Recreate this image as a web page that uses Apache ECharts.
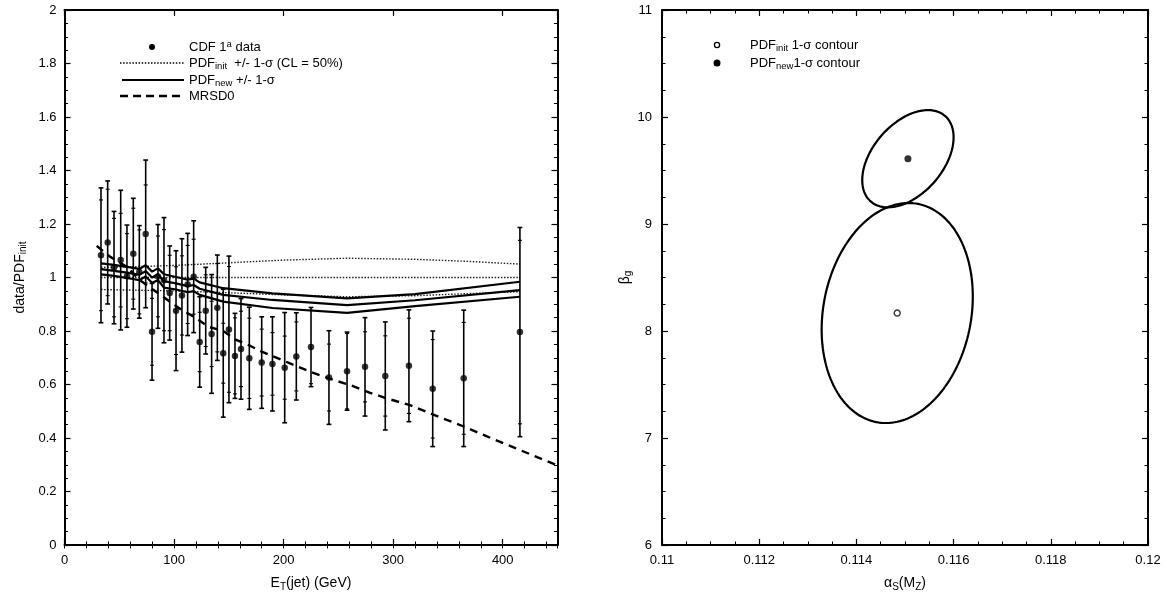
<!DOCTYPE html>
<html><head><meta charset="utf-8">
<script src="https://cdn.jsdelivr.net/npm/echarts@6/dist/echarts.min.js"></script>
<style>html,body{margin:0;padding:0;background:#fff}#c{width:1167px;height:598px}</style>
</head><body><div id="c"></div>
<script>
// ---------- Left panel: CDF 1a data / PDF_init ----------
const etJet = [33.3,39.4,45.2,51.3,57.0,62.8,68.3,74.1,79.9,85.3,90.8,96.0,101.8,107.2,112.4,117.9,123.4,128.9,134.3,139.5,144.9,150.1,155.6,161.1,168.7,180.0,189.8,201.0,211.6,225.0,241.4,257.9,274.3,292.8,314.4,336.1,364.4,415.7];
const ratio = [1.083,1.131,1.037,1.065,1.005,1.089,1.021,1.163,0.797,1.004,0.990,0.942,0.876,0.933,0.974,1.003,0.759,0.876,0.789,0.887,0.717,0.806,0.707,0.733,0.698,0.682,0.677,0.663,0.705,0.740,0.626,0.650,0.666,0.632,0.670,0.584,0.623,0.796];
const ratioErr = [0.252,0.230,0.210,0.261,0.191,0.207,0.173,0.276,0.181,0.194,0.234,0.176,0.224,0.212,0.191,0.209,0.169,0.162,0.222,0.197,0.239,0.274,0.159,0.188,0.191,0.171,0.176,0.206,0.163,0.148,0.175,0.146,0.184,0.202,0.209,0.216,0.255,0.391];
const statErr = [0.207,0.199,0.184,0.175,0.159,0.170,0.157,0.183,0.125,0.151,0.189,0.141,0.164,0.148,0.146,0.140,0.111,0.134,0.122,0.165,0.112,0.235,0.142,0.141,0.150,0.125,0.117,0.118,0.129,0.137,0.125,0.141,0.131,0.150,0.178,0.184,0.209,0.343];

// PDF_init +/- 1 sigma (dotted)
const initE = [33.3,60,100,150,200,258,320,370,415.7];
const initUp = [1.038,1.040,1.045,1.055,1.065,1.072,1.068,1.060,1.050];
const initMid = [1.0,1.0,1.0,1.0,1.0,1.0,1.0,1.0,1.0];
const initLow = [0.955,0.953,0.950,0.943,0.935,0.928,0.932,0.940,0.947];

// PDF_new +/- 1 sigma (solid)
const newE = [33.3,45.2,57.0,68.3,74.1,79.9,85.3,90.8,101.8,112.4,117.9,123.4,144.9,189.8,257.9,320,415.7];
const newUp = [1.053,1.047,1.040,1.032,1.046,1.022,1.034,1.012,1.002,0.992,0.996,0.982,0.960,0.941,0.922,0.938,0.984];
const newMid = [1.031,1.025,1.018,1.010,1.024,1.000,1.012,0.986,0.978,0.968,0.972,0.958,0.935,0.916,0.897,0.915,0.953];
const newLow = [1.012,1.006,0.998,0.990,1.004,0.980,0.990,0.962,0.955,0.945,0.949,0.935,0.910,0.886,0.868,0.893,0.928];

// MRSD0 (dashed)
const mrsE = [29.4,41.5,56.8,68.9,84.2,96,107,119.1,131.2,144.9,155.6,169.3,180,187.6,205.8,224.1,245.4,260.6,279.0,294.1,315.3,336.1,364.4,391.4,415.7,449.3];
const mrsVal = [1.118,1.078,1.040,0.990,0.945,0.910,0.879,0.851,0.816,0.800,0.769,0.745,0.723,0.710,0.679,0.648,0.617,0.598,0.569,0.548,0.523,0.488,0.443,0.396,0.355,0.299];

// ---------- Right panel: 1-sigma contours ----------
const initCenter = [0.11484, 8.168];
const initSigma = [0.001555, 1.028];
const initRho = 0.15;
const newCenter = [0.11506, 9.61];
const newSigma = [0.00094, 0.4545];
const newRho = 0.44;

// tick settings
const leftXTicks = [0, 450, 100, 20];
const leftYTicks = [0, 2, 0.2];
const rightXTicks = [0.11, 0.12, 0.002];
const rightYTicks = [6, 11, 1];

const F = '"Liberation Sans", Arial, Helvetica, sans-serif';
const K = '#000';

function ellipse(c, s, rho, n) {
  const pts = [];
  const k = Math.sqrt(1 - rho * rho);
  for (let i = 0; i <= n; i++) {
    const t = 2 * Math.PI * i / n;
    pts.push([c[0] + s[0] * Math.cos(t), c[1] + s[1] * (rho * Math.cos(t) + k * Math.sin(t))]);
  }
  return pts;
}
const pairs = (xs, ys) => xs.map((x, i) => [x, ys[i]]);

const rich = {
  m: { fontSize: 14, fontFamily: F, color: K },
  s: { fontSize: 10, fontFamily: F, color: K, padding: [7, 0, 0, 0] }
};
const richL = {
  m: { fontSize: 13, fontFamily: F, fill: K },
  s: { fontSize: 9.5, fontFamily: F, fill: K, padding: [6, 0, 0, 0] },
  p: { fontSize: 9.5, fontFamily: F, fill: K, padding: [0, 0, 6, 0] }
};

function axis(grid, pos, min, max, interval, o) {
  o = o || {};
  return Object.assign({
    type: 'value', gridIndex: grid, position: pos, min: min, max: max, interval: interval,
    axisLine: { show: true, onZero: false, lineStyle: { color: K, width: 2 } },
    axisTick: { show: true, inside: true, length: 6, lineStyle: { color: K, width: 1.2 } },
    minorTick: o.minor ? { show: true, splitNumber: o.minor, length: 3.5, lineStyle: { color: K, width: 1 } } : { show: false },
    splitLine: { show: false },
    axisLabel: { show: false }
  }, o.extra || {});
}
const lbl = (m, extra) => Object.assign({ show: true, color: K, fontSize: 13, fontFamily: F, margin: m }, extra || {});

const xAxis = [
  axis(0, 'bottom', leftXTicks[0], leftXTicks[1], leftXTicks[2], { extra: {
    axisLabel: lbl(9, { showMaxLabel: false }),
    name: '{m|E}{s|T}{m|(jet) (GeV)}', nameLocation: 'middle', nameGap: 30,
    nameTextStyle: { rich: rich }
  } }),
  axis(0, 'bottom', leftXTicks[0], leftXTicks[1], leftXTicks[3], { extra: {
    axisLine: { show: false }, axisTick: { show: true, inside: true, length: 3.5, lineStyle: { color: K, width: 1 } } } }),
  axis(0, 'top', leftXTicks[0], leftXTicks[1], leftXTicks[2]),
  axis(0, 'top', leftXTicks[0], leftXTicks[1], leftXTicks[3], { extra: {
    axisLine: { show: false }, axisTick: { show: true, inside: true, length: 3.5, lineStyle: { color: K, width: 1 } } } }),
  axis(1, 'bottom', rightXTicks[0], rightXTicks[1], rightXTicks[2], { minor: 4, extra: {
    axisLabel: lbl(9),
    name: '{m|α}{s|S}{m|(M}{s|Z}{m|)}', nameLocation: 'middle', nameGap: 30,
    nameTextStyle: { rich: rich }
  } }),
  axis(1, 'top', rightXTicks[0], rightXTicks[1], rightXTicks[2], { minor: 4 })
];
const yAxis = [
  axis(0, 'left', leftYTicks[0], leftYTicks[1], leftYTicks[2], { minor: 4, extra: {
    axisLabel: lbl(8),
    name: '{m|data/PDF}{s|init}', nameLocation: 'middle', nameGap: 36,
    nameTextStyle: { rich: rich }
  } }),
  axis(0, 'right', leftYTicks[0], leftYTicks[1], leftYTicks[2], { minor: 4 }),
  axis(1, 'left', rightYTicks[0], rightYTicks[1], rightYTicks[2], { minor: 4, extra: {
    axisLabel: lbl(10),
    name: '{m|β}{s|g}', nameLocation: 'middle', nameGap: 28,
    nameTextStyle: { rich: rich }
  } }),
  axis(1, 'right', rightYTicks[0], rightYTicks[1], rightYTicks[2], { minor: 4 })
];

const lineS = (data, style, xi, yi) => ({
  type: 'line', xAxisIndex: xi || 0, yAxisIndex: yi || 0, data: data, showSymbol: false, symbol: 'none',
  lineStyle: style, silent: true, z: 3
});

const series = [
  lineS(pairs(initE, initUp), { color: '#222', width: 1.4, type: [1.5, 1.6] }),
  lineS(pairs(initE, initMid), { color: '#222', width: 1.4, type: [1.5, 1.6] }),
  lineS(pairs(initE, initLow), { color: '#222', width: 1.4, type: [1.5, 1.6] }),
  lineS(pairs(newE, newUp), { color: K, width: 2.2 }),
  lineS(pairs(newE, newMid), { color: K, width: 2.2 }),
  lineS(pairs(newE, newLow), { color: K, width: 2.2 }),
  lineS(pairs(mrsE, mrsVal), { color: K, width: 2.4, type: [8, 6] }),
  {
    type: 'custom', xAxisIndex: 0, yAxisIndex: 0, z: 4,
    data: etJet.map((e, i) => [e, ratio[i], ratioErr[i], statErr[i]]),
    encode: { x: 0, y: 1 },
    renderItem: function (params, api) {
      const x = api.value(0), y = api.value(1), e = api.value(2), s = api.value(3);
      const t = api.coord([x, y + e]), b = api.coord([x, y - e]);
      const ts = api.coord([x, y + s]), bs = api.coord([x, y - s]);
      const c = 2.4, st = { stroke: K, lineWidth: 1.6 }, st2 = { stroke: K, lineWidth: 1.1 };
      const h = (p, w, sty) => ({ type: 'line', shape: { x1: p[0] - w, y1: p[1], x2: p[0] + w, y2: p[1] }, style: sty });
      return { type: 'group', children: [
        { type: 'line', shape: { x1: t[0], y1: t[1], x2: b[0], y2: b[1] }, style: st },
        h(t, c, st), h(b, c, st), h(ts, 2, st2), h(bs, 2, st2)
      ] };
    }
  },
  {
    type: 'scatter', xAxisIndex: 0, yAxisIndex: 0, z: 5, symbol: 'circle', symbolSize: 6.5,
    itemStyle: { color: K }, data: pairs(etJet, ratio), silent: true
  },
  lineS(ellipse(initCenter, initSigma, initRho, 180), { color: K, width: 2.2 }, 4, 2),
  lineS(ellipse(newCenter, newSigma, newRho, 180), { color: K, width: 2.2 }, 4, 2),
  {
    type: 'scatter', xAxisIndex: 4, yAxisIndex: 2, z: 5, symbol: 'circle', symbolSize: 6,
    itemStyle: { color: '#fff', borderColor: K, borderWidth: 1.4 }, data: [initCenter], silent: true
  },
  {
    type: 'scatter', xAxisIndex: 4, yAxisIndex: 2, z: 5, symbol: 'circle', symbolSize: 7,
    itemStyle: { color: K }, data: [newCenter], silent: true
  }
];

const txt = (x, y, text) => ({ type: 'text', x: x, y: y, style: { text: text, rich: richL, fontSize: 13, fontFamily: F, fill: K, verticalAlign: 'middle' } });
const ln = (x1, x2, y, w, dash) => ({ type: 'line', shape: { x1: x1, y1: y, x2: x2, y2: y }, style: { stroke: K, lineWidth: w, lineDash: dash || null } });
const graphic = [
  { type: 'circle', shape: { cx: 152, cy: 47, r: 3 }, style: { fill: K } },
  txt(189, 47, '{m|CDF 1}{p|a}{m| data}'),
  ln(120, 184, 63, 1.4, [1.5, 1.6]),
  txt(189, 63, '{m|PDF}{s|init}{m|  +/- 1-σ (CL = 50%)}'),
  ln(122, 184, 80, 2.2),
  txt(189, 80, '{m|PDF}{s|new}{m| +/- 1-σ}'),
  ln(120, 184, 96, 2.4, [8, 5]),
  txt(189, 96, '{m|MRSD0}'),
  { type: 'circle', shape: { cx: 717, cy: 45, r: 2.6 }, style: { fill: '#fff', stroke: K, lineWidth: 1.3 } },
  txt(750, 45, '{m|PDF}{s|init}{m| 1-σ contour}'),
  { type: 'circle', shape: { cx: 717, cy: 63, r: 3.5 }, style: { fill: K } },
  txt(750, 63, '{m|PDF}{s|new}{m|1-σ contour}')
];

const chart = echarts.init(document.getElementById('c'), null, { renderer: 'canvas' });
chart.setOption({
  animation: false,
  backgroundColor: '#fff',
  grid: [
    { left: 64.5, top: 10, width: 493, height: 535 },
    { left: 662, top: 10, width: 486, height: 535 }
  ],
  xAxis: xAxis,
  yAxis: yAxis,
  series: series,
  graphic: graphic
});
</script></body></html>
